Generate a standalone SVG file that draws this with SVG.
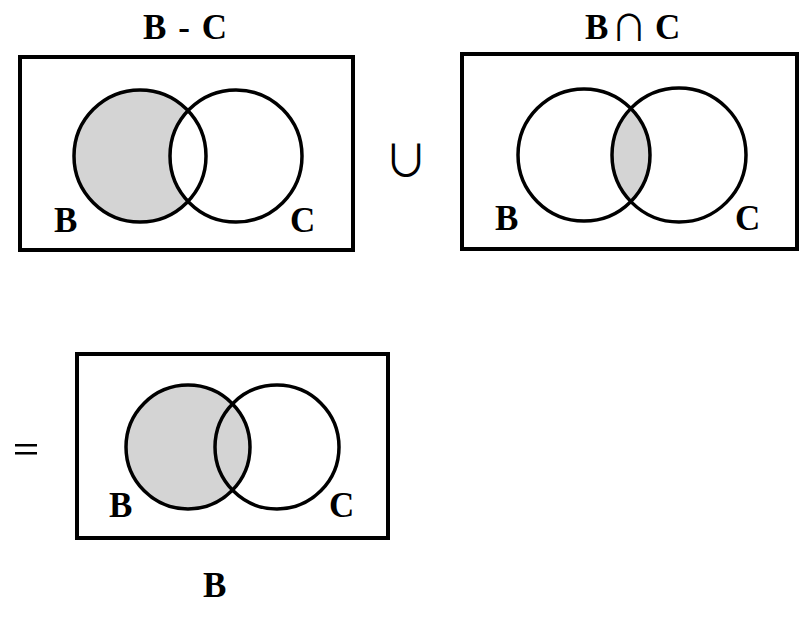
<svg xmlns="http://www.w3.org/2000/svg" width="803" height="618" viewBox="0 0 803 618">
<style>
.frame{fill:none;stroke:#000;stroke-width:4}
.ring{fill:none;stroke:#000;stroke-width:3.5}
.shade{fill:#d4d4d4}
.lbl{font-family:"Liberation Serif","Times New Roman",serif;font-weight:bold;font-size:35px;fill:#000}
.sym{font-family:"Noto Sans CJK JP","DejaVu Sans",sans-serif;font-weight:400;fill:#000}
</style>
<defs>
<clipPath id="clipB2"><circle cx="584" cy="155" r="66"/></clipPath>
</defs>
<rect width="803" height="618" fill="#fff"/>
<g id="panel-b-minus-c">
<rect class="frame" x="20" y="57" width="333" height="193"/>
<circle class="shade" cx="140" cy="156" r="66"/>
<circle cx="236" cy="156" r="66" fill="#fff"/>
<circle class="ring" cx="140" cy="156" r="66"/>
<circle class="ring" cx="236" cy="156" r="66"/>
<text class="lbl" x="54" y="232">B</text>
<text class="lbl" x="290" y="232">C</text>
<text class="lbl" x="143" y="39" font-size="34" textLength="84" lengthAdjust="spacing">B - C</text>
</g>
<g id="union-sign">
<text class="sym" x="406" y="177" font-size="44" text-anchor="middle">∪</text>
</g>
<g id="panel-b-cap-c">
<rect class="frame" x="462" y="54" width="335" height="195"/>
<circle class="shade" cx="679" cy="155" r="67" clip-path="url(#clipB2)"/>
<circle class="ring" cx="584" cy="155" r="66"/>
<circle class="ring" cx="679" cy="155" r="67"/>
<text class="lbl" x="585" y="39" font-size="34">B</text>
<text class="sym" x="629" y="41" font-size="36" text-anchor="middle">∩</text>
<text class="lbl" x="655" y="39" font-size="36">C</text>
<text class="lbl" x="495" y="230">B</text>
<text class="lbl" x="735" y="230">C</text>
</g>
<g id="equals-sign">
<rect x="15" y="444" width="22" height="2.5" fill="#000"/>
<rect x="15" y="452" width="22" height="2.5" fill="#000"/>
</g>
<g id="panel-result-b">
<rect class="frame" x="77" y="354" width="311" height="184"/>
<circle class="shade" cx="188" cy="447" r="62"/>
<circle class="ring" cx="188" cy="447" r="62"/>
<circle class="ring" cx="277" cy="447" r="62"/>
<text class="lbl" x="109" y="517">B</text>
<text class="lbl" x="329" y="517">C</text>
<text class="lbl" x="203" y="597">B</text>
</g>
</svg>
